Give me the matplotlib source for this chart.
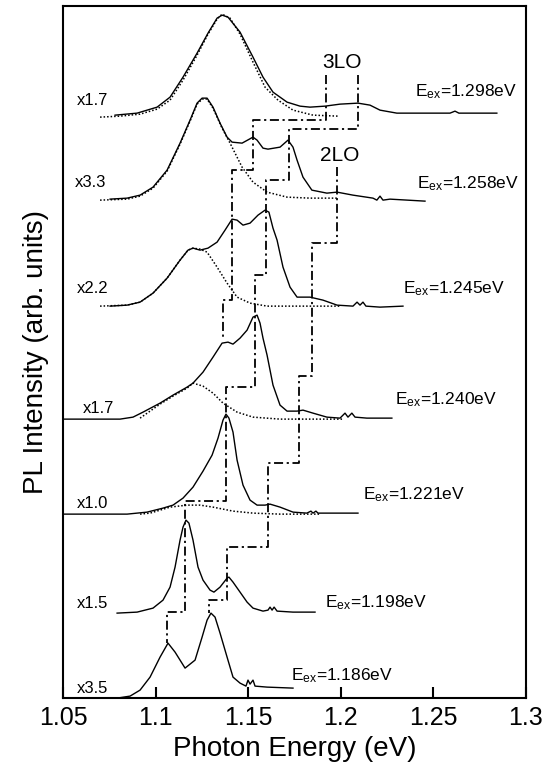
import matplotlib
matplotlib.use("Agg")
import matplotlib.pyplot as plt

plt.rcParams['font.family'] = ['Liberation Sans', 'DejaVu Sans']
plt.rcParams['mathtext.fontset'] = 'custom'
plt.rcParams['mathtext.rm'] = 'Liberation Sans'
plt.rcParams['mathtext.it'] = 'Liberation Sans:italic'

# measured spectra (photon energy in eV, stacked intensity in arb. units)
e_1298 = [1.0781, 1.090, 1.1008, 1.1078, 1.1148, 1.1224, 1.1283, 1.1332, 1.1359, 1.1391,
          1.1456, 1.1526, 1.158, 1.1634, 1.171, 1.178, 1.1834, 1.1915, 1.1996, 1.2093,
          1.2158, 1.2212, 1.2303, 1.2482, 1.259, 1.2617, 1.2638, 1.2681, 1.2843]
i_1298 = [583, 585, 591, 601, 621, 645, 665, 680, 683, 681,
          666, 641, 621, 606, 596, 592, 591, 592, 594, 595,
          593, 588, 585, 585, 585, 587, 585, 585, 585]
fe_1298 = [1.07, 1.0808, 1.0916, 1.1008, 1.1078, 1.1148, 1.1224, 1.1283, 1.1332, 1.1359,
           1.1402, 1.1456, 1.1526, 1.1591, 1.1661, 1.1742, 1.185, 1.1985]
fi_1298 = [581, 582, 584, 589, 598, 618, 643, 664, 679, 684,
           680, 664, 636, 611, 598, 588, 583, 582]

e_1258 = [1.0754, 1.0846, 1.0916, 1.0986, 1.1062, 1.1132, 1.1186, 1.1224, 1.1251, 1.1278,
          1.131, 1.1348, 1.1386, 1.1413, 1.1467, 1.1526, 1.1548, 1.158, 1.1607, 1.1672,
          1.1715, 1.1742, 1.1764, 1.1796, 1.1844, 1.1925, 1.198, 1.2066, 1.2174, 1.2195,
          1.2212, 1.2228, 1.2266, 1.2455]
i_1258 = [499, 500, 503, 511, 528, 555, 578, 595, 600, 600,
          591, 575, 561, 556, 555, 561, 558, 550, 549, 551,
          558, 551, 538, 521, 508, 505, 506, 503, 500, 498,
          502, 498, 499, 497]
fe_1258 = [1.07, 1.0846, 1.0916, 1.0986, 1.1062, 1.1132, 1.1186, 1.1224, 1.1251, 1.1278,
           1.131, 1.1359, 1.1402, 1.1467, 1.1526, 1.1602, 1.171, 1.1834, 1.198]
fi_1258 = [498, 499, 502, 510, 527, 554, 577, 594, 599, 599,
           590, 570, 555, 531, 516, 506, 501, 500, 500]

e_1245 = [1.0754, 1.0846, 1.0916, 1.0986, 1.1062, 1.1132, 1.1175, 1.1202, 1.124, 1.1283,
          1.1332, 1.1375, 1.1413, 1.144, 1.1472, 1.151, 1.1553, 1.1591, 1.1612, 1.1634,
          1.1656, 1.1688, 1.1726, 1.1764, 1.1834, 1.1904, 1.198, 1.2066, 1.2088, 1.2104,
          1.212, 1.2136, 1.2212, 1.2336]
i_1245 = [392, 393, 396, 405, 420, 438, 448, 450, 448, 450,
          456, 468, 479, 478, 473, 475, 483, 488, 486, 470,
          458, 431, 411, 401, 401, 398, 393, 392, 396, 393,
          396, 392, 391, 392]
fe_1245 = [1.07, 1.0846, 1.0916, 1.0986, 1.1062, 1.1132, 1.1175, 1.1202, 1.124, 1.1278,
           1.1332, 1.1386, 1.144, 1.151, 1.1602, 1.1834, 1.1996]
fi_1245 = [392, 393, 396, 405, 420, 438, 448, 450, 449, 446,
           431, 415, 401, 395, 392, 392, 392]

e_1240 = [1.05, 1.0808, 1.0878, 1.0932, 1.1024, 1.1094, 1.117, 1.1202, 1.1256, 1.131,
          1.1359, 1.1391, 1.1418, 1.1456, 1.1494, 1.1526, 1.1548, 1.1564, 1.158, 1.1602,
          1.1634, 1.1672, 1.171, 1.1764, 1.1796, 1.185, 1.1925, 1.1996, 1.2023, 1.2039,
          1.206, 1.2077, 1.2141, 1.2276]
i_1240 = [279, 279, 281, 286, 295, 303, 311, 315, 326, 341,
          355, 356, 354, 360, 368, 381, 383, 375, 360, 343,
          313, 293, 287, 287, 288, 285, 281, 280, 285, 281,
          285, 281, 280, 280]
fe_1240 = [1.0916, 1.1024, 1.1094, 1.117, 1.1202, 1.1256, 1.131, 1.1364, 1.144, 1.1526,
           1.1672, 1.1834, 1.2007]
fi_1240 = [280, 294, 302, 310, 315, 312, 305, 295, 286, 281,
           279, 279, 279]

e_1221 = [1.05, 1.0846, 1.0954, 1.104, 1.1094, 1.1148, 1.1202, 1.1256, 1.1305, 1.1337,
          1.1364, 1.138, 1.1396, 1.1418, 1.144, 1.1472, 1.151, 1.1548, 1.1591, 1.1618,
          1.1672, 1.1742, 1.1817, 1.1839, 1.185, 1.1866, 1.1877, 1.2093]
i_1221 = [184, 184, 186, 190, 193, 200, 211, 227, 243, 260,
          278, 284, 280, 266, 238, 213, 198, 193, 193, 194,
          191, 186, 185, 187, 185, 187, 185, 185]
fe_1221 = [1.0916, 1.097, 1.1078, 1.117, 1.124, 1.131, 1.1418, 1.1526, 1.1672, 1.1888]
fi_1221 = [184, 185, 191, 193, 193, 191, 187, 185, 184, 184]

e_1198 = [1.0792, 1.090, 1.0986, 1.104, 1.1078, 1.1105, 1.1132, 1.1148, 1.1164, 1.118,
          1.1202, 1.1229, 1.1256, 1.1294, 1.1315, 1.1348, 1.1386, 1.1396, 1.1418, 1.1456,
          1.1494, 1.1526, 1.158, 1.1607, 1.1618, 1.1629, 1.164, 1.1656, 1.1742, 1.1861]
i_1198 = [85, 86, 90, 98, 111, 131, 158, 171, 178, 175,
          158, 131, 118, 108, 106, 111, 120, 121, 116, 106,
          96, 90, 87, 88, 91, 88, 91, 87, 86, 86]

e_1186 = [1.0792, 1.0862, 1.0916, 1.097, 1.1024, 1.1067, 1.1105, 1.1159, 1.1213, 1.1251,
          1.1278, 1.1299, 1.1321, 1.1348, 1.1386, 1.1418, 1.1456, 1.1488, 1.1499, 1.151,
          1.1526, 1.1537, 1.1602, 1.1742]
i_1186 = [0, 2, 8, 21, 41, 55, 46, 30, 38, 61,
          78, 85, 81, 65, 41, 21, 15, 12, 18, 14,
          18, 12, 11, 10]

# LO-replica guide lines (dash-dot staircases)
lo_e1 = [1.192, 1.192, 1.1526, 1.1526, 1.1413, 1.1413, 1.1364, 1.1364]
lo_i1 = [623, 578, 578, 528, 528, 398, 398, 360]
lo_e2 = [1.2093, 1.2093, 1.172, 1.172, 1.1596, 1.1596, 1.1537, 1.1537, 1.138, 1.138,
         1.1159, 1.1159, 1.1062, 1.1062]
lo_i2 = [623, 569, 569, 518, 518, 423, 423, 311, 311, 197, 197, 86, 86, 55]
lo_e3 = [1.198, 1.198, 1.1844, 1.1844, 1.1774, 1.1774, 1.1607, 1.1607, 1.1386, 1.1386,
         1.1288, 1.1288]
lo_i3 = [531, 455, 455, 322, 322, 235, 235, 151, 151, 98, 98, 85]

scale_labels = ['x1.7', 'x3.3', 'x2.2', 'x1.7', 'x1.0', 'x1.5', 'x3.5']
scale_pos = [(1.0576, 598), (1.0565, 516), (1.0576, 410), (1.0608, 290),
             (1.0576, 195), (1.0576, 95), (1.0576, 10)]
eex_labels = ['1.298', '1.258', '1.245', '1.240', '1.221', '1.198', '1.186']
eex_pos = [(1.2401, 602), (1.2411, 510), (1.2336, 405), (1.2293, 294),
           (1.212, 199), (1.1915, 91), (1.1731, 18)]

fig = plt.figure(figsize=(5.53, 7.68), dpi=100)
ax = fig.add_axes([0.114, 0.091, 0.837, 0.901])

fits = [(fe_1298, fi_1298), (fe_1258, fi_1258), (fe_1245, fi_1245),
        (fe_1240, fi_1240), (fe_1221, fi_1221)]
for fe, fi in fits:
    ax.plot(fe, fi, color='black', lw=1.1, linestyle=(0, (1, 1.3)))

spectra = [(e_1298, i_1298), (e_1258, i_1258), (e_1245, i_1245), (e_1240, i_1240),
           (e_1221, i_1221), (e_1198, i_1198), (e_1186, i_1186)]
for e, i in spectra:
    ax.plot(e, i, color='black', lw=1.0)

for le, li in [(lo_e1, lo_i1), (lo_e2, lo_i2), (lo_e3, lo_i3)]:
    ax.plot(le, li, color='black', lw=1.3, linestyle=(0, (5, 2, 1.2, 2)))

for lab, (x, y) in zip(scale_labels, scale_pos):
    ax.text(x, y, lab, fontsize=12, ha='left', va='center')
for lab, (x, y) in zip(eex_labels, eex_pos):
    ax.text(x, y, r'E$_{\rm ex}$=' + lab + 'eV', fontsize=12.5, ha='left', va='baseline')
ax.text(1.2007, 636, '3LO', fontsize=15, ha='center', va='center')
ax.text(1.1996, 543, '2LO', fontsize=15, ha='center', va='center')

ax.set_xlim(1.05, 1.3)
ax.set_ylim(0, 692)
ax.set_xticks([1.05, 1.1, 1.15, 1.2, 1.25, 1.3])
ax.set_xticklabels(['1.05', '1.1', '1.15', '1.2', '1.25', '1.3'])
ax.set_yticks([])
ax.tick_params(axis='x', direction='in', length=8, width=1.5, labelsize=18, pad=6)
for s in ax.spines.values():
    s.set_linewidth(1.5)
ax.set_xlabel('Photon Energy (eV)', fontsize=20, labelpad=4)
ax.set_ylabel('PL Intensity (arb. units)', fontsize=20, labelpad=10)

fig.savefig('out.png', dpi=100)
